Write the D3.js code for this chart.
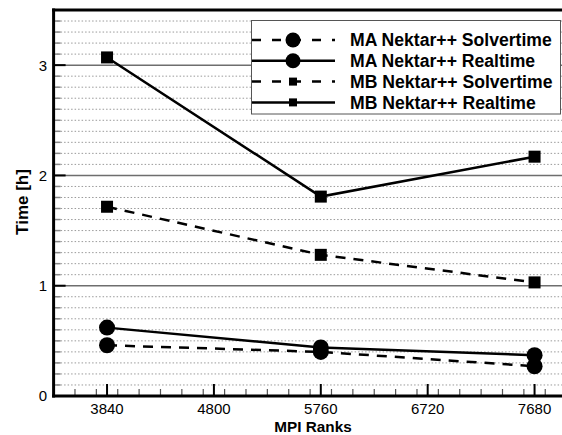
<!DOCTYPE html>
<html>
<head>
<meta charset="utf-8">
<script src="https://cdn.jsdelivr.net/npm/d3@7"></script>
<style>
  html, body { margin: 0; padding: 0; background: #fff; }
  svg { display: block; font-family: "Liberation Sans", Arial, sans-serif; }
</style>
</head>
<body>
<svg id="chart" width="562" height="435"></svg>
<script>
// MPI rank counts on the x axis
const ranks = [3840, 5760, 7680];

// Wall-clock times in hours for each case
const maSolvertime = [0.46, 0.40, 0.27];
const maRealtime   = [0.62, 0.44, 0.37];
const mbSolvertime = [1.716, 1.28, 1.03];
const mbRealtime   = [3.07, 1.808, 2.17];

const xTicks = [3840, 4800, 5760, 6720, 7680];
const yTicks = [0, 1, 2, 3];

const seriesNames = [
  "MA Nektar++ Solvertime",
  "MA Nektar++ Realtime",
  "MB Nektar++ Solvertime",
  "MB Nektar++ Realtime"
];

const series = [
  { name: seriesNames[0], values: maSolvertime, dashed: true,  marker: "circle" },
  { name: seriesNames[1], values: maRealtime,   dashed: false, marker: "circle" },
  { name: seriesNames[2], values: mbSolvertime, dashed: true,  marker: "square" },
  { name: seriesNames[3], values: mbRealtime,   dashed: false, marker: "square" }
];

const svg = d3.select("#chart");
const pLeft = 53.6, pTop = 10, pBottom = 396, pRight = 588, viewRight = 562;

const x = d3.scaleLinear().domain([3360, 8160]).range([pLeft, pRight]);
const y = d3.scaleLinear().domain([0, 3.5]).range([pBottom, pTop]);

// Minor horizontal grid every 0.1 h (dotted)
const minorY = d3.range(1, 35).map(i => i / 10).filter(v => Math.abs(v - Math.round(v)) > 1e-6);
svg.append("g").selectAll("line").data(minorY).join("line")
  .attr("x1", pLeft).attr("x2", viewRight)
  .attr("y1", d => y(d)).attr("y2", d => y(d))
  .attr("stroke", "#9a9a9a").attr("stroke-width", 1)
  .attr("stroke-dasharray", "1.5,2");

// Major horizontal grid
svg.append("g").selectAll("line").data(yTicks.filter(v => v > 0)).join("line")
  .attr("x1", pLeft).attr("x2", viewRight)
  .attr("y1", d => y(d)).attr("y2", d => y(d))
  .attr("stroke", "#6e6e6e").attr("stroke-width", 1.5);

// Y axis ticks (inward)
svg.append("g").selectAll("line").data(minorY).join("line")
  .attr("x1", pLeft).attr("x2", pLeft + 7)
  .attr("y1", d => y(d)).attr("y2", d => y(d))
  .attr("stroke", "#888").attr("stroke-width", 1.5);
svg.append("g").selectAll("line").data(yTicks).join("line")
  .attr("x1", pLeft).attr("x2", pLeft + 12)
  .attr("y1", d => y(d)).attr("y2", d => y(d))
  .attr("stroke", "#000").attr("stroke-width", 2);

// X axis ticks (inward)
const minorX = d3.range(3360, 8160 + 1, 192).filter(v => !xTicks.includes(v));
svg.append("g").selectAll("line").data(minorX).join("line")
  .attr("x1", d => x(d)).attr("x2", d => x(d))
  .attr("y1", pBottom).attr("y2", pBottom - 7)
  .attr("stroke", "#555").attr("stroke-width", 1.2);
svg.append("g").selectAll("line").data(xTicks).join("line")
  .attr("x1", d => x(d)).attr("x2", d => x(d))
  .attr("y1", pBottom).attr("y2", pBottom - 12)
  .attr("stroke", "#000").attr("stroke-width", 2);

// Frame: left, bottom and top borders
svg.append("line").attr("x1", pLeft).attr("x2", pLeft).attr("y1", pTop - 1.5).attr("y2", pBottom + 1.5)
  .attr("stroke", "#000").attr("stroke-width", 3);
svg.append("line").attr("x1", pLeft - 1.5).attr("x2", viewRight).attr("y1", pBottom).attr("y2", pBottom)
  .attr("stroke", "#000").attr("stroke-width", 3);
svg.append("line").attr("x1", pLeft - 1.5).attr("x2", viewRight).attr("y1", pTop).attr("y2", pTop)
  .attr("stroke", "#000").attr("stroke-width", 3);

// Tick labels
svg.append("g").selectAll("text").data(yTicks).join("text")
  .attr("x", 47).attr("y", d => y(d)).attr("dy", "0.36em")
  .attr("text-anchor", "end").attr("font-size", 15).text(d => d);
svg.append("g").selectAll("text").data(xTicks).join("text")
  .attr("x", d => x(d)).attr("y", 413.5)
  .attr("text-anchor", "middle").attr("font-size", 15).text(d => d);

// Axis titles
svg.append("text").attr("x", 313).attr("y", 432).attr("text-anchor", "middle")
  .attr("font-size", 15.3).attr("font-weight", "bold").text("MPI Ranks");
svg.append("text").attr("transform", "translate(28,202) rotate(-90)")
  .attr("text-anchor", "middle").attr("font-size", 17).attr("font-weight", "bold").text("Time [h]");

// Series lines
const line = d3.line().x((d, i) => x(ranks[i])).y(d => y(d));
series.forEach(s => {
  svg.append("path").datum(s.values)
    .attr("d", line).attr("fill", "none").attr("stroke", "#000")
    .attr("stroke-width", 2.5)
    .attr("stroke-dasharray", s.dashed ? "10,8" : null);
});

function drawMarker(g, type, cx, cy, size) {
  if (type === "circle") {
    g.append("circle").attr("cx", cx).attr("cy", cy).attr("r", size).attr("fill", "#000");
  } else {
    g.append("rect").attr("x", cx - size).attr("y", cy - size)
      .attr("width", 2 * size).attr("height", 2 * size).attr("fill", "#000");
  }
}

// Series markers
series.forEach(s => {
  const g = svg.append("g");
  s.values.forEach((v, i) => drawMarker(g, s.marker, x(ranks[i]), y(v), s.marker === "circle" ? 8 : 6));
});

// Legend
const lg = svg.append("g");
lg.append("rect").attr("x", 251.5).attr("y", 20.5).attr("width", 309).attr("height", 93.5)
  .attr("fill", "#fff").attr("stroke", "#555").attr("stroke-width", 1);
series.forEach((s, i) => {
  const ry = 40 + i * 20.8;
  lg.append("line").attr("x1", 252).attr("x2", 335).attr("y1", ry).attr("y2", ry)
    .attr("stroke", "#000").attr("stroke-width", 2.5)
    .attr("stroke-dasharray", s.dashed ? "9,11" : null);
  drawMarker(lg, s.marker, 293, ry, s.marker === "circle" ? 7.5 : 4);
  lg.append("text").attr("x", 350).attr("y", ry).attr("dy", "0.36em")
    .attr("font-size", 17.6).attr("font-weight", "bold").text(s.name);
});
</script>
</body>
</html>
